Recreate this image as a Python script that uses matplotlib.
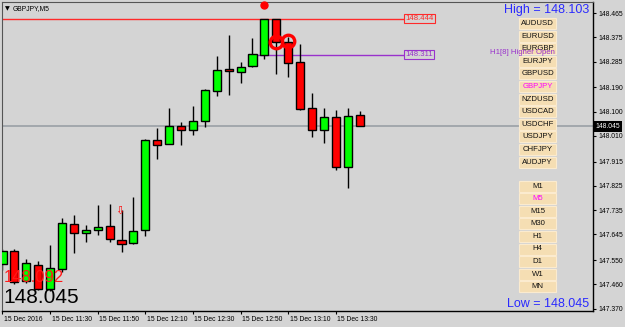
import numpy as np
import matplotlib
matplotlib.use("Agg")
import matplotlib.pyplot as plt
from matplotlib.patches import Rectangle
import matplotlib.transforms as mtransforms

plt.rcParams['font.family'] = ['Liberation Sans', 'DejaVu Sans']

# ---------------- data ----------------
symbol_title = "GBPJPY,M5"
opens = [147.535, 147.584, 147.472, 147.532, 147.443, 147.517, 147.684, 147.650, 147.661, 147.676,
         147.624, 147.613, 147.661, 147.995, 147.980, 148.046, 148.032, 148.065, 148.176, 148.258,
         148.246, 148.269, 148.311, 148.441, 148.358, 148.284, 148.113, 148.032, 148.080, 147.895,
         148.087]
highs = [147.591, 147.591, 147.554, 147.546, 147.606, 147.706, 147.717, 147.680, 147.754, 147.758,
         147.735, 147.784, 147.998, 148.039, 148.113, 148.061, 148.121, 148.182, 148.306, 148.384,
         148.284, 148.372, 148.444, 148.444, 148.376, 148.350, 148.169, 148.113, 148.106, 148.113,
         148.103]
lows = [147.513, 147.461, 147.465, 147.440, 147.436, 147.506, 147.576, 147.617, 147.643, 147.617,
        147.580, 147.611, 147.639, 147.924, 147.978, 147.976, 148.013, 148.043, 148.158, 148.161,
        148.206, 148.265, 148.295, 148.239, 148.228, 148.107, 148.006, 147.984, 147.884, 147.817,
        148.045]
closes = [147.584, 147.469, 147.539, 147.443, 147.521, 147.687, 147.650, 147.661, 147.672, 147.628,
          147.609, 147.658, 147.995, 147.976, 148.046, 148.032, 148.065, 148.180, 148.254, 148.250,
          148.265, 148.315, 148.441, 148.358, 148.280, 148.109, 148.032, 148.080, 147.895, 148.084,
          148.045]

xtick_bars = [0, 4, 8, 12, 16, 20, 24, 28]
xtick_labels = ["15 Dec 2016", "15 Dec 11:30", "15 Dec 11:50", "15 Dec 12:10",
                "15 Dec 12:30", "15 Dec 12:50", "15 Dec 13:10", "15 Dec 13:30"]
ytick_values = [148.465, 148.375, 148.285, 148.190, 148.100, 148.010, 147.915,
                147.825, 147.735, 147.645, 147.550, 147.460, 147.370]

bid_price = 148.045
level_high = 148.444
level_h1_open = 148.311
h1_open_bar = 22
h1_label = "H1[8] Higher Open"
high_text = "High = 148.103"
low_text = "Low = 148.045"
big_red_text = "148.092"
big_black_text = "148.045"

dot_bars = [22]
dot_prices = [148.495]
ring_bars = [23, 24]
ring_prices = [148.358, 148.363]
arrow_bars = [10]
arrow_prices = [147.734]

pairs = ["AUDUSD", "EURUSD", "EURGBP", "EURJPY", "GBPUSD", "GBPJPY",
         "NZDUSD", "USDCAD", "USDCHF", "USDJPY", "CHFJPY", "AUDJPY"]
active_pair = "GBPJPY"
timeframes = ["M1", "M5", "M15", "M30", "H1", "H4", "D1", "W1", "MN"]
active_tf = "M5"

# ---------------- style ----------------
BG = "#d4d4d4"
W, H = 625, 327
fig = plt.figure(figsize=(W / 100, H / 100), dpi=100)
fig.patch.set_facecolor(BG)
ax = fig.add_axes([2 / W, 1 - 311 / H, 591 / W, 309.5 / H])
ax.set_facecolor(BG)
ax.set_xlim(-0.04, 49.6)
ax.set_ylim(147.3613, 148.5076)

o = np.array(opens); c = np.array(closes); hi = np.array(highs); lo = np.array(lows)
idx = np.arange(len(o))
up = c >= o
cols = np.where(up, "#00ff00", "#ff0000")
bottoms = np.minimum(o, c)
heights = np.maximum(np.abs(c - o), 0.003)

# level lines
ax.axhline(bid_price, color="#9aa0a6", lw=1.2, zorder=1)
ax.plot([-1, 33.75], [level_high, level_high], color="#ff2a2a", lw=1.0, zorder=1)
ax.plot([h1_open_bar - 0.5, 33.75], [level_h1_open, level_h1_open], color="#9932cc", lw=1.0, zorder=1)

ax.vlines(idx, lo, hi, color="black", lw=1.0, zorder=2)
ax.bar(idx, heights, bottom=bottoms, width=0.68, color=cols, edgecolor="black",
       linewidth=1.0, zorder=3)

# signals
ax.plot(dot_bars, dot_prices, "o", color="red", ms=5, zorder=4, clip_on=False)
ax.plot(ring_bars, ring_prices, "o", mfc="none", mec="red", mew=2.4, ms=9, zorder=5)
for b, p in zip(arrow_bars, arrow_prices):
    ax.text(b - 0.15, p, "\u21e9", color="red", fontsize=8, ha="center", va="center",
            family="DejaVu Sans", zorder=5)

# level label boxes
ax.text(33.85, level_high, f"{level_high:.3f}", color="#ff2a2a", fontsize=5.6,
        ha="left", va="center", zorder=6,
        bbox=dict(boxstyle="square,pad=0.15", fc=BG, ec="#ff2a2a", lw=0.8))
ax.text(33.85, level_h1_open, f"{level_h1_open:.3f}", color="#9932cc", fontsize=5.6,
        ha="left", va="center", zorder=6,
        bbox=dict(boxstyle="square,pad=0.15", fc=BG, ec="#9932cc", lw=0.8))

# spines & ticks
for s in ["left", "top"]:
    ax.spines[s].set_color("#555555")
    ax.spines[s].set_linewidth(0.8)
for s in ["right", "bottom"]:
    ax.spines[s].set_color("black")
    ax.spines[s].set_linewidth(1.0)

ax.yaxis.tick_right()
ax.set_yticks(ytick_values)
ax.set_yticklabels([f"{v:.3f}" for v in ytick_values])
ax.tick_params(axis="y", direction="out", length=2.2, width=0.8, pad=1.5, labelsize=4.9,
               colors="black")
ax.set_xticks(xtick_bars)
ax.set_xticklabels(xtick_labels, ha="left")
ax.tick_params(axis="x", direction="out", length=2.2, width=0.8, pad=1.2, labelsize=4.9,
               colors="black")
off = mtransforms.ScaledTranslation(1.5 / 100, 0, fig.dpi_scale_trans)
for lab in ax.get_xticklabels():
    lab.set_transform(lab.get_transform() + off)

# bid label on price axis
btr = mtransforms.blended_transform_factory(ax.transAxes, ax.transData)
ax.text(1.0 + 2.5 / 591, bid_price, f"{bid_price:.3f}", transform=btr, color="white",
        fontsize=4.9, ha="left", va="center", zorder=10, clip_on=False,
        bbox=dict(boxstyle="square,pad=0.25", fc="black", ec="black", lw=0))

def fx(x):
    return x / W

def fy(y):
    return 1 - y / H

# title
fig.text(fx(5), fy(8.5), "\u25bc", fontsize=4.5, color="black", ha="left", va="center",
         family="DejaVu Sans")
fig.text(fx(13), fy(8.5), symbol_title, fontsize=4.9, color="black", ha="left", va="center")

fig.text(fx(589), fy(10.5), high_text, fontsize=9, color="#2a2aff", ha="right", va="center")
fig.text(fx(589), fy(304), low_text, fontsize=9, color="#2a2aff", ha="right", va="center")
fig.text(fx(4), fy(277.5), big_red_text, fontsize=12, color="#ff1a1a", ha="left", va="center")
fig.text(fx(3), fy(297.5), big_black_text, fontsize=15, color="black", ha="left", va="center")

fig.text(fx(555), fy(53), h1_label, fontsize=5.6, color="#9932cc", ha="right", va="center",
         zorder=20)

# buttons
bx0, bw, bh = 519, 37, 11
for i, name in enumerate(pairs):
    yc = 23.5 + 12.6 * i
    fig.patches.append(Rectangle((fx(bx0), fy(yc + bh / 2)), bw / W, bh / H,
                                 transform=fig.transFigure, fc="#f5deb3", ec="#fbebcf",
                                 lw=0.8, zorder=15))
    fig.text(fx(bx0 + bw / 2), fy(yc), name, fontsize=5.6,
             color="#ff00ff" if name == active_pair else "#111111",
             ha="center", va="center", zorder=16)
for i, name in enumerate(timeframes):
    yc = 186 + 12.6 * i
    fig.patches.append(Rectangle((fx(bx0), fy(yc + bh / 2)), bw / W, bh / H,
                                 transform=fig.transFigure, fc="#f5deb3", ec="#fbebcf",
                                 lw=0.8, zorder=15))
    fig.text(fx(bx0 + bw / 2), fy(yc), name, fontsize=5.6,
             color="#ff00ff" if name == active_tf else "#111111",
             ha="center", va="center", zorder=16)

fig.savefig("out.png", dpi=100, facecolor=BG)
